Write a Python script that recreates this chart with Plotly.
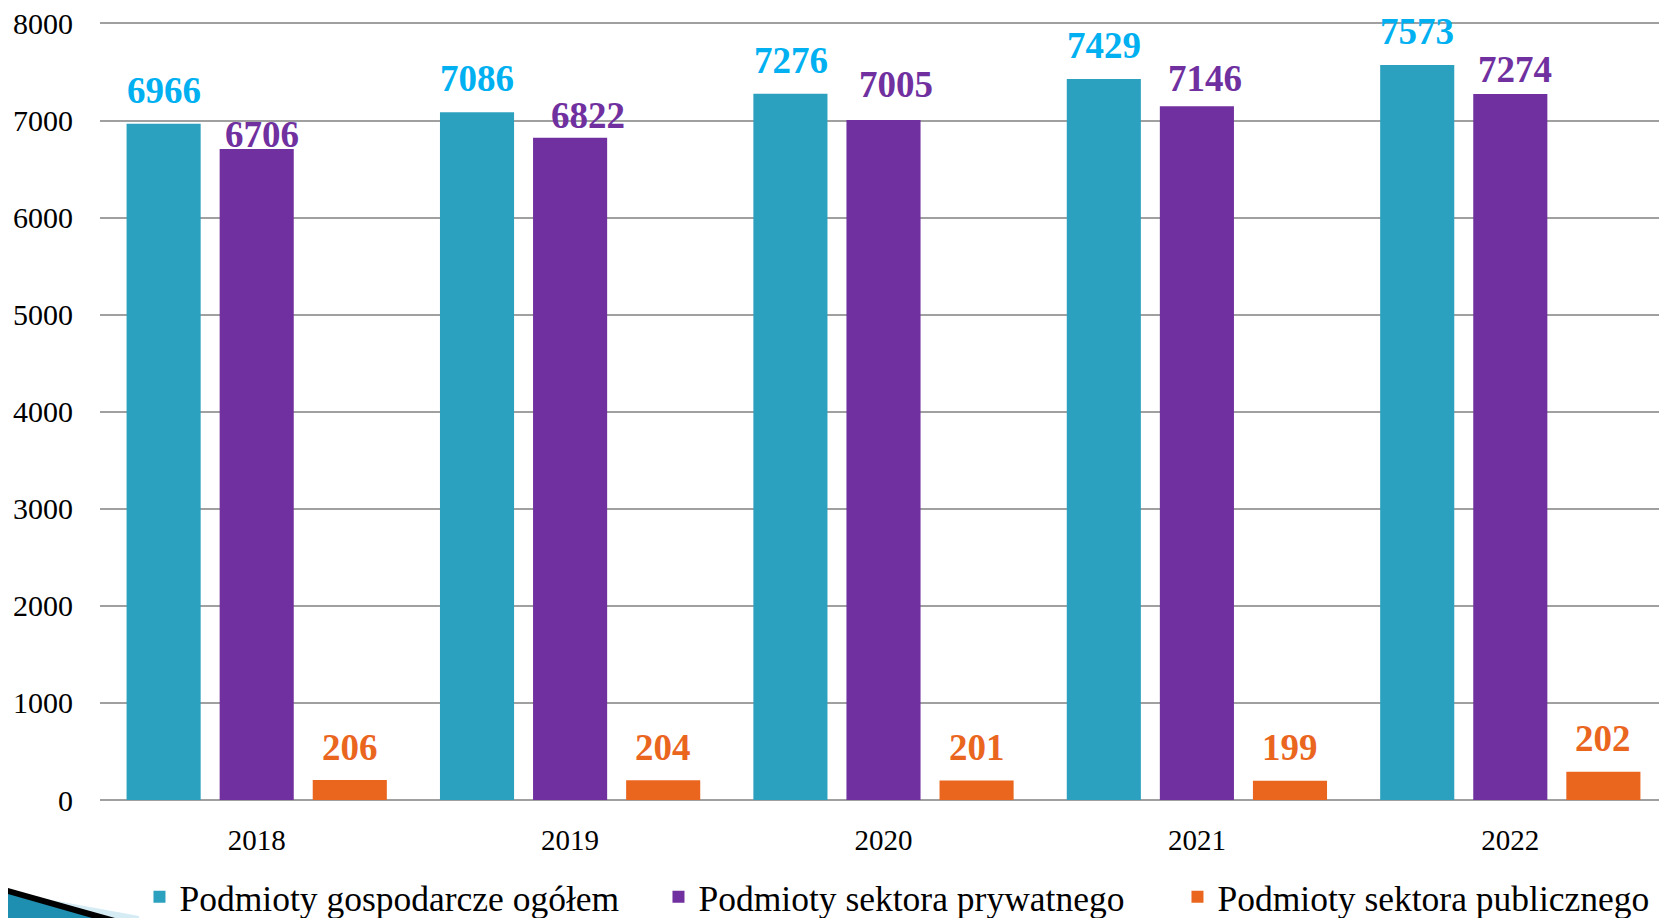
import plotly.graph_objects as go

years = ["2018", "2019", "2020", "2021", "2022"]
total = [6966, 7086, 7276, 7429, 7573]
private = [6706, 6822, 7005, 7146, 7274]
public_bar = [206, 204, 201, 199, 292]
public_labels = ["206", "204", "201", "199", "202"]
series_names = ["Podmioty gospodarcze ogółem", "Podmioty sektora prywatnego", "Podmioty sektora publicznego"]
bar_colors = ["#2CA1BF", "#70309F", "#EA661F"]
label_colors = ["#00B0F0", "#7030A0", "#EA661F"]
y_ticks = [0, 1000, 2000, 3000, 4000, 5000, 6000, 7000, 8000]

# label placement (pixels): vertical lift above bar top, horizontal nudge
label_lift = [[11, 11, 11, 11, 11], [-8, 0, 13, 5, 2], [10, 10, 10, 11, 11]]
label_nudge = [[0, 0, 0, 0, 0], [5, 18, 12, 8, 5], [0, 0, 0, 0, 0]]

SERIF = "Palatino Linotype, Book Antiqua, Liberation Serif, serif"

fig = go.Figure()
values_list = [total, private, public_bar]
labels_list = [[str(v) for v in total], [str(v) for v in private], public_labels]
for name, vals, col in zip(series_names, values_list, bar_colors):
    fig.add_trace(go.Bar(x=years, y=vals, name=name, marker=dict(color=col, line=dict(width=0))))

offsets = [-93, 0, 93]
annotations = []
for s, (vals, labs, col, off) in enumerate(zip(values_list, labels_list, label_colors, offsets)):
    for i, (v, lab) in enumerate(zip(vals, labs)):
        annotations.append(dict(x=i, y=v, text=lab, showarrow=False, xref="x", yref="y",
                                xshift=off + label_nudge[s][i], yshift=label_lift[s][i], yanchor="bottom",
                                font=dict(family=SERIF, size=37, color=col, weight="bold")))

# figure sits 8px inside the page (body margin); page pixel -> paper
W, H = 1659, 910
ML, MT, MB = 92, 14, 118
def px(x):
    return (x - 8 - ML) / (W - ML)
def py(y):
    return ((H - MB) - (y - 8)) / (H - MB - MT)
def path(points):
    return "M " + " L ".join(f"{px(a)},{py(b)}" for a, b in points) + " Z"

shapes = [
    dict(type="path", xref="paper", yref="paper", path=path([(8, 892), (150, 918), (8, 918)]),
         fillcolor="#D5ECF4", line=dict(width=0), layer="above"),
    dict(type="path", xref="paper", yref="paper", path=path([(8, 888), (115, 918), (8, 918)]),
         fillcolor="#000000", line=dict(width=0), layer="above"),
    dict(type="path", xref="paper", yref="paper", path=path([(8, 894), (92, 918), (8, 918)]),
         fillcolor="#1E8FB0", line=dict(width=0), layer="above"),
]

fig.update_layout(
    width=W, height=H,
    margin=dict(l=ML, r=0, t=MT, b=MB, autoexpand=False),
    paper_bgcolor="white", plot_bgcolor="white",
    barmode="group", bargap=0.109, bargroupgap=0.204,
    font=dict(family=SERIF, color="black"),
    annotations=annotations,
    shapes=shapes,
    showlegend=True,
    legend=dict(orientation="h", x=0.522, xanchor="center", y=-0.125, yanchor="middle",
                font=dict(family=SERIF, size=35.5, color="black"), itemwidth=30,
                entrywidth=474, traceorder="normal"),
)
fig.update_yaxes(range=[0, 8015], tickvals=y_ticks, showgrid=True, gridcolor="#A0A0A0", gridwidth=2,
                 zeroline=True, zerolinecolor="#A0A0A0", zerolinewidth=2, showline=False,
                 ticklabeloverflow="allow",
                 tickfont=dict(family=SERIF, size=30, color="black"), ticklabelstandoff=26)
fig.update_xaxes(type="category", range=[-0.5, 4.5], tickfont=dict(family=SERIF, size=29, color="black"),
                 showline=False, ticks="", ticklabelstandoff=20)

fig.write_html("out.html")
